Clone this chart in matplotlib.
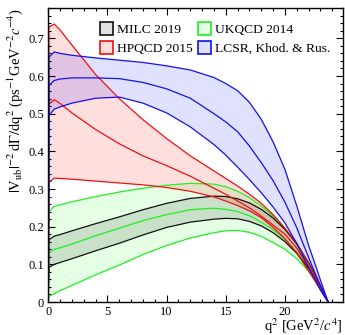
import matplotlib
matplotlib.use("Agg")
import matplotlib.pyplot as plt
from matplotlib.patches import Patch
from matplotlib.ticker import MultipleLocator, FuncFormatter

plt.rcParams.update({
    "font.family": ["Liberation Serif", "DejaVu Serif"],
    "mathtext.fontset": "stix",
    "xtick.direction": "in",
    "ytick.direction": "in",
    "xtick.top": True,
    "ytick.right": True,
})

# q^2 grid (GeV^2/c^4) and band edges
q2 = [0, 0.05, 0.5, 1, 2, 4, 6, 8, 10, 12, 14, 15, 16, 17, 18, 19, 20, 21, 22, 22.5, 23, 23.3, 23.65]

ukqcd_hi = [0, 0.240, 0.254, 0.258, 0.266, 0.280, 0.292, 0.302, 0.310, 0.315, 0.313, 0.306, 0.294, 0.277, 0.255, 0.228, 0.195, 0.154, 0.104, 0.075, 0.043, 0.023, 0]
ukqcd_mid = [0, 0.130, 0.140, 0.144, 0.154, 0.176, 0.196, 0.216, 0.232, 0.245, 0.249, 0.246, 0.240, 0.229, 0.212, 0.192, 0.166, 0.133, 0.091, 0.066, 0.038, 0.020, 0]
ukqcd_lo = [0, 0.015, 0.022, 0.030, 0.044, 0.072, 0.098, 0.126, 0.150, 0.170, 0.184, 0.189, 0.190, 0.185, 0.174, 0.158, 0.140, 0.115, 0.082, 0.060, 0.034, 0.018, 0]

milc_hi = [0, 0.165, 0.175, 0.179, 0.189, 0.208, 0.226, 0.245, 0.262, 0.275, 0.281, 0.280, 0.274, 0.263, 0.246, 0.223, 0.193, 0.154, 0.104, 0.076, 0.044, 0.023, 0]
milc_lo = [0, 0.092, 0.100, 0.105, 0.115, 0.136, 0.156, 0.178, 0.198, 0.212, 0.220, 0.222, 0.221, 0.214, 0.202, 0.184, 0.160, 0.129, 0.089, 0.065, 0.037, 0.020, 0]

hpqcd_hi = [0, 0.730, 0.738, 0.722, 0.682, 0.604, 0.540, 0.484, 0.434, 0.388, 0.348, 0.328, 0.308, 0.286, 0.262, 0.232, 0.196, 0.156, 0.102, 0.072, 0.040, 0.021, 0]
hpqcd_mid = [0, 0.525, 0.537, 0.527, 0.502, 0.458, 0.420, 0.388, 0.362, 0.334, 0.302, 0.286, 0.268, 0.250, 0.228, 0.204, 0.180, 0.143, 0.092, 0.065, 0.036, 0.019, 0]
hpqcd_lo = [0, 0.318, 0.329, 0.328, 0.326, 0.321, 0.316, 0.311, 0.304, 0.294, 0.279, 0.268, 0.256, 0.242, 0.224, 0.198, 0.168, 0.130, 0.082, 0.058, 0.032, 0.017, 0]

lcsr_hi = [0, 0.650, 0.664, 0.660, 0.655, 0.648, 0.642, 0.636, 0.627, 0.616, 0.596, 0.580, 0.561, 0.530, 0.485, 0.425, 0.352, 0.255, 0.150, 0.105, 0.058, 0.031, 0]
lcsr_mid = [0, 0.575, 0.588, 0.592, 0.595, 0.595, 0.593, 0.583, 0.566, 0.541, 0.500, 0.478, 0.452, 0.414, 0.370, 0.322, 0.265, 0.197, 0.118, 0.080, 0.042, 0.022, 0]
lcsr_lo = [0, 0.495, 0.512, 0.518, 0.528, 0.541, 0.544, 0.528, 0.502, 0.465, 0.418, 0.390, 0.358, 0.325, 0.290, 0.252, 0.210, 0.155, 0.092, 0.062, 0.032, 0.017, 0]

# label, line colour, fill colour, curves
bands = [
    ("UKQCD 2014", "#22ee22", (0.0, 1.0, 0.0, 0.10), [ukqcd_hi, ukqcd_mid, ukqcd_lo]),
    ("MILC 2019", "#111111", (0.0, 0.0, 0.0, 0.12), [milc_hi, milc_lo]),
    ("HPQCD 2015", "#ee1111", (1.0, 0.0, 0.0, 0.13), [hpqcd_hi, hpqcd_mid, hpqcd_lo]),
    ("LCSR, Khod. & Rus.", "#1111ee", (0.0, 0.0, 1.0, 0.12), [lcsr_hi, lcsr_mid, lcsr_lo]),
]

fig = plt.figure(figsize=(3.45, 3.35), dpi=100)
ax = fig.add_axes([0.14, 0.0985, 0.854, 0.877])

handles = {}
for label, lc, fc, curves in bands:
    ax.fill_between(q2, curves[0], curves[-1], facecolor=fc, edgecolor="none")
    for c in curves:
        ax.plot(q2, c, color=lc, lw=0.9)
    handles[label] = Patch(facecolor=fc, edgecolor=lc, lw=1.2)

ax.set_xlim(0, 24.9)
ax.set_ylim(0, 0.78)
ax.xaxis.set_major_locator(MultipleLocator(5))
ax.xaxis.set_minor_locator(MultipleLocator(1))
ax.yaxis.set_major_locator(MultipleLocator(0.1))
ax.yaxis.set_minor_locator(MultipleLocator(0.02))
ax.yaxis.set_major_formatter(FuncFormatter(lambda v, p: "0" if abs(v) < 1e-9 else f"{v:.1f}"))
ax.tick_params(which="major", length=5, width=0.8, labelsize=9, pad=3)
ax.tick_params(which="minor", length=2.5, width=0.8)
for s in ax.spines.values():
    s.set_linewidth(1.0)

ax.set_ylabel(r"$|\mathrm{V}_{\mathrm{ub}}|^{-2}\,\mathrm{d}\Gamma/\mathrm{dq}^{2}$ (ps$^{-1}$GeV$^{-2}c^{-4}$)",
              fontsize=10.5, loc="top")
ax.yaxis.set_label_coords(-0.078, 1.0)
ax.set_xlabel(r"q$^{2}$ [GeV$^{2}$/$c^{4}$]", fontsize=10.5, loc="right")
ax.xaxis.set_label_coords(1.0, -0.05)

order = ["MILC 2019", "HPQCD 2015", "UKQCD 2014", "LCSR, Khod. & Rus."]
ax.legend([handles[k] for k in order], order, ncol=2, loc="upper right",
          bbox_to_anchor=(0.99, 0.985), frameon=False, fontsize=9.7,
          handlelength=1.0, handleheight=1.1, handletextpad=0.3,
          columnspacing=0.35, labelspacing=0.35, borderpad=0.2)

fig.savefig("out.png", dpi=100)
